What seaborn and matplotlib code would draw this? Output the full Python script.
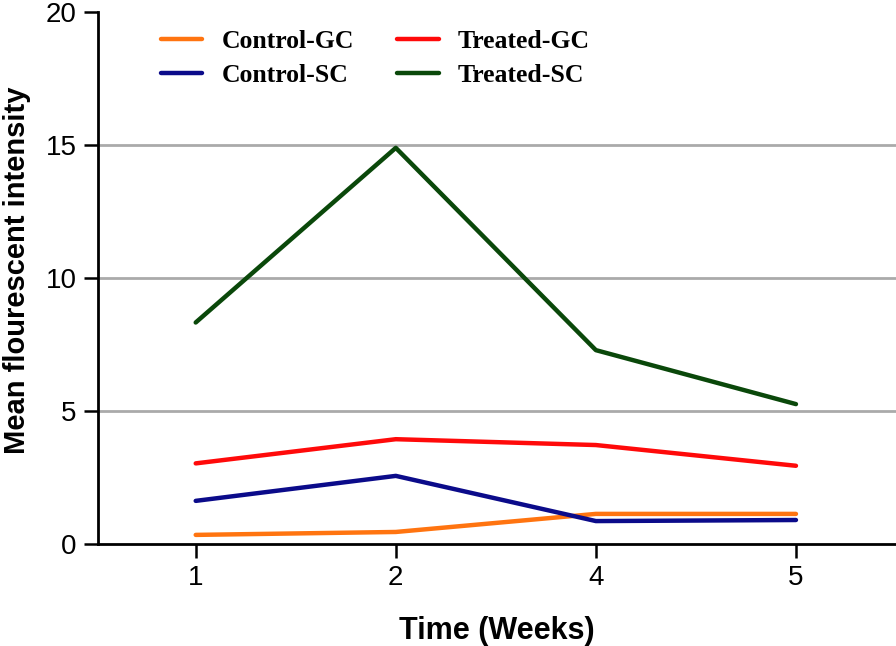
import pandas as pd
import matplotlib.pyplot as plt
import seaborn as sns

weeks = ["1", "2", "4", "5"]
control_gc = [0.34, 0.45, 1.13, 1.13]
control_sc = [1.62, 2.56, 0.86, 0.90]
treated_gc = [3.03, 3.94, 3.72, 2.94]
treated_sc = [8.33, 14.9, 7.29, 5.26]

series = {
    "Control-GC": control_gc,
    "Control-SC": control_sc,
    "Treated-GC": treated_gc,
    "Treated-SC": treated_sc,
}
colors = {
    "Control-GC": "#ff7410",
    "Control-SC": "#0b0b8a",
    "Treated-GC": "#ff0a0a",
    "Treated-SC": "#0a480a",
}

rows = []
for name, vals in series.items():
    for w, v in zip(weeks, vals):
        rows.append({"Week": w, "Value": v, "Group": name})
df = pd.DataFrame(rows)

sns.set_style("white")
plt.rcParams["font.family"] = ["Liberation Sans", "DejaVu Sans"]
plt.rcParams["text.color"] = "black"
plt.rcParams["axes.labelcolor"] = "black"
plt.rcParams["xtick.color"] = "black"
plt.rcParams["ytick.color"] = "black"

fig = plt.figure(figsize=(8.96, 6.46), dpi=100)
ax = fig.add_axes([0.109, 0.158, 0.891, 0.823])

for y in [5, 10, 15]:
    ax.axhline(y, color="#aaaaaa", lw=2, zorder=0)

sns.lineplot(data=df, x="Week", y="Value", hue="Group", palette=colors,
             linewidth=3.2, ax=ax, legend=False, sort=False)

ax.set_xlim(-0.49, 3.5)
ax.set_ylim(0, 20)
ax.set_yticks([0, 5, 10, 15, 20])
ax.tick_params(axis="both", which="major", length=10, width=1.8,
               labelsize=20, direction="out",
               left=True, bottom=True, pad=5)
for side in ["top", "right"]:
    ax.spines[side].set_visible(False)
for side in ["left", "bottom"]:
    ax.spines[side].set_linewidth(2)
    ax.spines[side].set_color("black")

ax.set_xlabel("Time (Weeks)", fontsize=22, fontweight="bold", labelpad=18)
ax.set_ylabel("Mean flourescent intensity", fontsize=21, fontweight="bold")
ax.yaxis.set_label_coords(-0.083, 0.515)

handles = [plt.Line2D([], [], color=colors[n], lw=3.2) for n in series]
leg = ax.legend(handles, list(series.keys()), ncol=2, frameon=False,
                loc="upper left", bbox_to_anchor=(0.0627, 0.99),
                prop={"family": "Liberation Serif", "weight": "bold", "size": 18.5},
                borderpad=0, handlelength=1.63, columnspacing=1.67,
                labelspacing=0.41, handletextpad=0.74)

fig.savefig("out.png", dpi=100)
